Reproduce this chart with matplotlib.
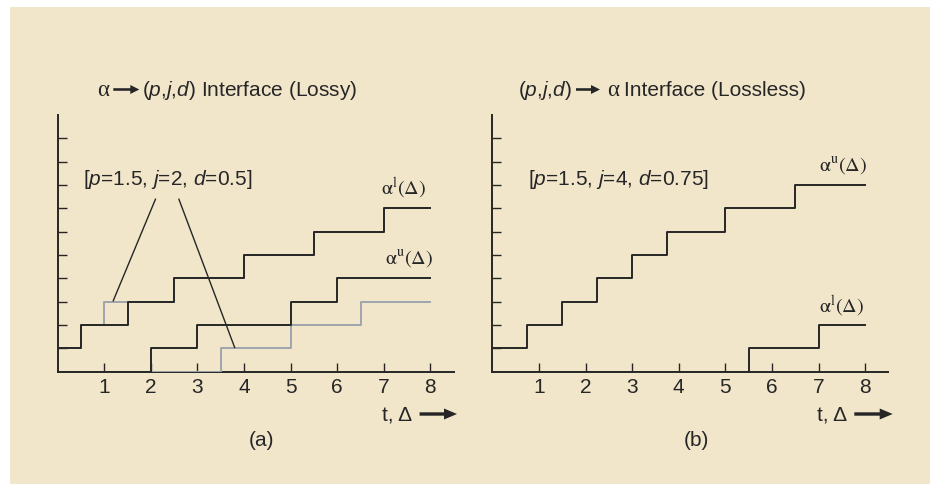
import matplotlib
matplotlib.use("Agg")
import matplotlib.pyplot as plt
from matplotlib.patches import Rectangle, FancyArrow

# ---------------- data ----------------
x_ticks = [1, 2, 3, 4, 5, 6, 7, 8]
y_ticks = [1, 2, 3, 4, 5, 6, 7, 8, 9, 10]

# (a) lossy interface
a_upper_x = [0, 0.5, 1.5, 2.5, 4, 5.5, 7, 8]          # alpha^l (black)
a_upper_y = [1, 2, 3, 4, 5, 6, 7, 7]
a_upper_pjd_x = [0, 0.5, 1, 2.5, 4, 5.5, 7, 8]        # (p,j,d) curve (gray)
a_upper_pjd_y = [1, 2, 3, 4, 5, 6, 7, 7]
a_lower_x = [0, 2, 3, 5, 6, 8]                         # alpha^u (black)
a_lower_y = [0, 1, 2, 3, 4, 4]
a_lower_pjd_x = [2, 3.5, 5, 6.5, 8]                    # (p,j,d) curve (gray)
a_lower_pjd_y = [0, 1, 2, 3, 3]

# (b) lossless interface
b_upper_x = [0, 0.75, 1.5, 2.25, 3, 3.75, 5, 6.5, 8]   # alpha^u
b_upper_y = [1, 2, 3, 4, 5, 6, 7, 8, 8]
b_lower_x = [0, 5.5, 7, 8]                             # alpha^l
b_lower_y = [0, 1, 2, 2]

# ---------------- style ----------------
W, H = 930, 485
CREAM = "#F1E6CA"
INK = "#262626"
GRAY = "#9EA5AD"
FS = 15
plt.rcParams["mathtext.fontset"] = "custom"
plt.rcParams["mathtext.rm"] = "Liberation Sans"
plt.rcParams["mathtext.it"] = "Liberation Sans:italic"
plt.rcParams["font.family"] = ["Liberation Sans", "DejaVu Sans"]

def fx(px):
    return px / W

def fy(py):
    return 1 - py / H

fig = plt.figure(figsize=(W / 100, H / 100), dpi=100, facecolor="white")
fig.patches.append(Rectangle((fx(10), 0), 1 - fx(10), fy(8), transform=fig.transFigure,
                             facecolor=CREAM, edgecolor="none", zorder=-10))

ax_w = 396 / W
ax_h = 256.7 / H
ax_b = fy(372.7)
axA = fig.add_axes([fx(57.7), ax_b, ax_w, ax_h])
axB = fig.add_axes([fx(492.4), ax_b, ax_w, ax_h])

for ax in (axA, axB):
    ax.set_facecolor("none")
    ax.set_xlim(0, 8.5)
    ax.set_ylim(0, 11)
    for s in ("top", "right"):
        ax.spines[s].set_visible(False)
    for s in ("left", "bottom"):
        ax.spines[s].set_color(INK)
        ax.spines[s].set_linewidth(1.4)
    ax.set_xticks(x_ticks)
    ax.set_xticklabels([str(v) for v in x_ticks])
    ax.set_yticks(y_ticks)
    ax.set_yticklabels([])
    ax.tick_params(direction="in", length=6.5, width=1.0, color=INK,
                   labelsize=FS, labelcolor=INK, pad=4)

lw = 1.4
# panel (a)
axA.step(a_upper_pjd_x, a_upper_pjd_y, where="post", color=GRAY, lw=lw, zorder=3)
axA.step(a_lower_pjd_x, a_lower_pjd_y, where="post", color=GRAY, lw=lw, zorder=3)
axA.step(a_upper_x, a_upper_y, where="post", color=INK, lw=lw, zorder=4)
axA.step(a_lower_x, a_lower_y, where="post", color=INK, lw=lw, zorder=4)
# panel (b)
axB.step(b_upper_x, b_upper_y, where="post", color=INK, lw=lw, zorder=4)
axB.step(b_lower_x, b_lower_y, where="post", color=INK, lw=lw, zorder=4)

# curve labels
lab_kw = dict(fontsize=14.5, va="center", ha="left", color=INK, math_fontfamily="stix")
axA.text(6.93, 7.9, r"$\mathrm{\alpha}^{\mathrm{l}}(\Delta)$", **lab_kw)
axA.text(7.02, 4.87, r"$\mathrm{\alpha}^{\mathrm{u}}(\Delta)$", **lab_kw)
axB.text(7.01, 8.86, r"$\mathrm{\alpha}^{\mathrm{u}}(\Delta)$", **lab_kw)
axB.text(7.01, 2.86, r"$\mathrm{\alpha}^{\mathrm{l}}(\Delta)$", **lab_kw)

# parameter annotations
axA.text(0.55, 8.29, r"[$\mathit{p}$=1.5, $\mathit{j}$=2, $\mathit{d}$=0.5]",
         fontsize=FS, va="center", ha="left", color=INK)
axB.text(0.76, 8.29, r"[$\mathit{p}$=1.5, $\mathit{j}$=4, $\mathit{d}$=0.75]",
         fontsize=FS, va="center", ha="left", color=INK)
ap = dict(arrowstyle="-", lw=1.0, color=INK, shrinkA=0, shrinkB=0)
axA.annotate("", xy=(1.19, 3.03), xytext=(2.10, 7.40), arrowprops=ap, zorder=5)
axA.annotate("", xy=(3.80, 1.03), xytext=(2.60, 7.40), arrowprops=ap, zorder=5)

# titles
ty = fy(96)
fig.text(fx(96.7), ty, "α", family="Liberation Serif", fontsize=16.5, va="baseline", color=INK)
fig.text(fx(142), ty, r"($\mathit{p}$,$\mathit{j}$,$\mathit{d}$) Interface (Lossy)",
         fontsize=FS, va="baseline", color=INK)
fig.text(fx(518.3), ty, r"($\mathit{p}$,$\mathit{j}$,$\mathit{d}$)",
         fontsize=FS, va="baseline", color=INK)
fig.text(fx(607.3), ty, "α", family="Liberation Serif", fontsize=16.5, va="baseline", color=INK)
fig.text(fx(624.3), ty, "Interface (Lossless)", fontsize=FS, va="baseline", color=INK)

def arrow(x0, x1, yc, shaft, hw, hl):
    fig.patches.append(FancyArrow(fx(x0), fy(yc), (x1 - x0) / W, 0,
                                  width=shaft / H, head_width=hw / H, head_length=hl / W,
                                  length_includes_head=True, transform=fig.transFigure,
                                  color=INK, lw=0))

arrow(113.3, 139.3, 90.5, 2.6, 9, 9)
arrow(576, 600, 90.5, 2.6, 9, 9)

# axis labels with arrows
fig.text(fx(381.7), fy(415), "t, Δ", fontsize=FS, va="center", ha="left", color=INK)
fig.text(fx(817.3), fy(415), "t, Δ", fontsize=FS, va="center", ha="left", color=INK)
arrow(419.6, 457, 415, 3.4, 11, 13)
arrow(854.3, 892.7, 415, 3.4, 11, 13)

# panel tags
fig.text(fx(261.7), fy(440.5), "(a)", fontsize=FS, va="center", ha="center", color=INK)
fig.text(fx(696), fy(440.5), "(b)", fontsize=FS, va="center", ha="center", color=INK)

fig.savefig("out.png", dpi=100, facecolor="white")
